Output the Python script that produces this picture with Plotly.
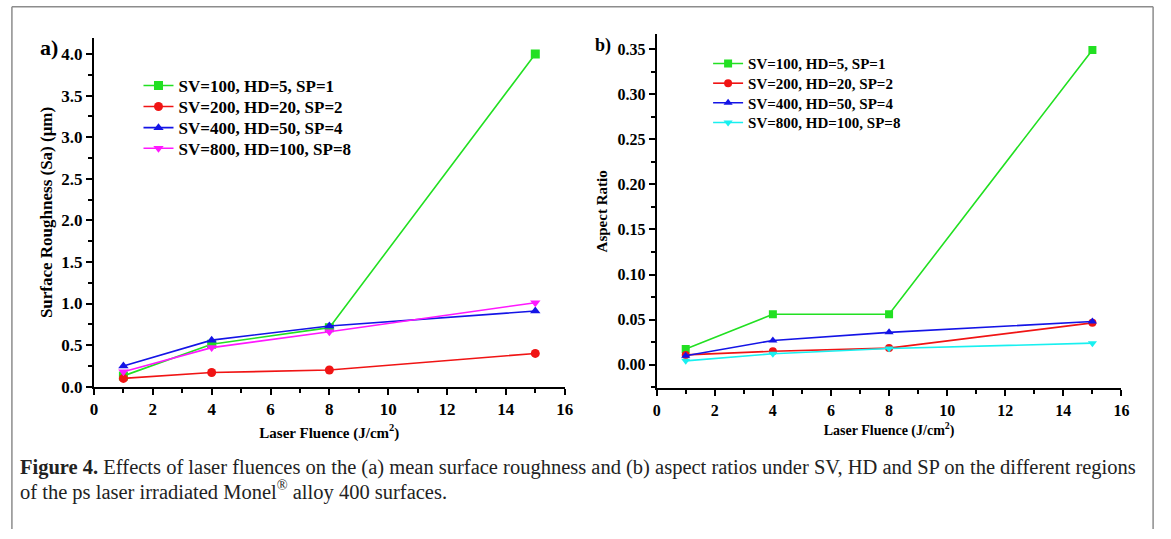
import plotly.graph_objects as go

# ---------------- data ----------------
fluence = [1, 4, 8, 15]
labels = ["SV=100, HD=5, SP=1", "SV=200, HD=20, SP=2",
          "SV=400, HD=50, SP=4", "SV=800, HD=100, SP=8"]

sa_100 = [0.13, 0.51, 0.71, 4.00]
sa_200 = [0.10, 0.17, 0.20, 0.40]
sa_400 = [0.25, 0.56, 0.73, 0.91]
sa_800 = [0.18, 0.47, 0.66, 1.01]

ar_100 = [0.0174, 0.056, 0.056, 0.349]
ar_200 = [0.011, 0.015, 0.0185, 0.0465]
ar_400 = [0.010, 0.027, 0.036, 0.048]
ar_800 = [0.0044, 0.0123, 0.018, 0.024]

caption_1 = ("<b>Figure 4.</b> Effects of laser fluences on the (a) mean surface roughness and "
             "(b) aspect ratios under SV, HD and SP on the different regions")
caption_2 = "of the ps laser irradiated Monel<sup>®</sup> alloy 400 surfaces."

# ---------------- styles ----------------
W, H = 1171, 539
FONT = "Liberation Serif"
green, red, blue, magenta, cyan = "#22e022", "#f01414", "#1414e6", "#ff18ff", "#18f0f0"

left_styles = [(green, "square"), (red, "circle"), (blue, "triangle-up"), (magenta, "triangle-down")]
right_styles = [(green, "square"), (red, "circle"), (blue, "triangle-up"), (cyan, "triangle-down")]


def px_x(p):
    return p / W


def px_y(p):
    return (H - p) / H


fig = go.Figure()

left_rows = [87.5, 109, 130.5, 151.5]
right_rows = [65, 85, 105, 125]
legend_layout = {}

for i, (name, ys, (c, sym)) in enumerate(zip(labels, [sa_100, sa_200, sa_400, sa_800], left_styles)):
    lg = "legend" if i == 0 else f"legend{i + 1}"
    fig.add_trace(go.Scatter(x=fluence, y=ys, name=name, mode="lines+markers",
                             line=dict(color=c, width=1.6),
                             marker=dict(color=c, symbol=sym, size=9),
                             xaxis="x", yaxis="y", legend=lg))
    legend_layout[lg] = dict(x=px_x(136), y=px_y(left_rows[i]), xanchor="left", yanchor="middle",
                             bgcolor="rgba(0,0,0,0)", borderwidth=0,
                             font=dict(size=17, family=FONT, weight="bold"), itemwidth=30)

for i, (name, ys, (c, sym)) in enumerate(zip(labels, [ar_100, ar_200, ar_400, ar_800], right_styles)):
    lg = f"legend{i + 5}"
    fig.add_trace(go.Scatter(x=fluence, y=ys, name=name, mode="lines+markers",
                             line=dict(color=c, width=1.6),
                             marker=dict(color=c, symbol=sym, size=8),
                             xaxis="x2", yaxis="y2", legend=lg))
    legend_layout[lg] = dict(x=px_x(712), y=px_y(right_rows[i]), xanchor="left", yanchor="middle",
                             bgcolor="rgba(0,0,0,0)", borderwidth=0,
                             font=dict(size=15, family=FONT, weight="bold"), itemwidth=30)

axis_common = dict(showline=True, linecolor="black", linewidth=2, ticks="outside",
                   tickcolor="black", tickwidth=1.5, showgrid=False, zeroline=False,
                   mirror=False)

fig.update_layout(
    width=W, height=H, margin=dict(l=0, r=0, t=0, b=0),
    paper_bgcolor="white", plot_bgcolor="white",
    font=dict(family=FONT, color="black"),
    xaxis=dict(domain=[px_x(91), px_x(567)], range=[0, 16], dtick=2, tick0=0,
               ticklen=6, anchor="y",
               tickfont=dict(size=17, family=FONT, weight="bold"),
               minor=dict(dtick=1, tick0=0, ticklen=4, ticks="outside", tickcolor="black", tickwidth=1.5),
               title=dict(text="<b>Laser Fluence (J/cm<sup>2</sup>)</b>", font=dict(size=15, family=FONT), standoff=9),
               **axis_common),
    yaxis=dict(domain=[px_y(394), px_y(39)], range=[0, 4.19], dtick=0.5, tick0=0,
               tickformat=".1f", ticklen=6, anchor="x",
               tickfont=dict(size=17, family=FONT, weight="bold"),
               minor=dict(dtick=0.25, tick0=0, ticklen=4, ticks="outside", tickcolor="black", tickwidth=1.5),
               title=dict(text="<b>Surface Roughness (Sa) (μm)</b>", font=dict(size=17, family=FONT), standoff=4),
               **axis_common),
    xaxis2=dict(domain=[px_x(660), px_x(1130)], range=[0, 16], dtick=2, tick0=0,
                ticklen=6, anchor="y2",
                tickfont=dict(size=16, family=FONT, weight="bold"),
                minor=dict(dtick=1, tick0=0, ticklen=4, ticks="outside", tickcolor="black", tickwidth=1.5),
                title=dict(text="<b>Laser Fluence (J/cm<sup>2</sup>)</b>", font=dict(size=14, family=FONT), standoff=8),
                **axis_common),
    yaxis2=dict(domain=[px_y(395.7), px_y(35)], range=[-0.0261, 0.3663], dtick=0.05, tick0=0,
                tickformat=".2f", ticklen=6, anchor="x2",
                tickfont=dict(size=16, family=FONT, weight="bold"),
                minor=dict(dtick=0.025, tick0=0, ticklen=4, ticks="outside", tickcolor="black", tickwidth=1.5),
                title=dict(text="<b>Aspect Ratio</b>", font=dict(size=15, family=FONT), standoff=6),
                **axis_common),
    showlegend=True,
    **legend_layout,
)

# panel labels
fig.add_annotation(x=px_x(46), y=px_y(48), xref="paper", yref="paper", text="<b>a)</b>",
                   showarrow=False, font=dict(size=22, family=FONT), xanchor="center", yanchor="middle")
fig.add_annotation(x=px_x(606), y=px_y(46), xref="paper", yref="paper", text="<b>b)</b>",
                   showarrow=False, font=dict(size=18, family=FONT), xanchor="center", yanchor="middle")

# caption (two lines, placed separately to keep the tight line spacing)
fig.add_annotation(x=px_x(14), y=px_y(476), xref="paper", yref="paper", text=caption_1,
                   showarrow=False, align="left", xanchor="left", yanchor="middle",
                   font=dict(size=20.5, family=FONT, color="#222"))
fig.add_annotation(x=px_x(14), y=px_y(500), xref="paper", yref="paper", text=caption_2,
                   showarrow=False, align="left", xanchor="left", yanchor="middle",
                   font=dict(size=20.5, family=FONT, color="#222"))

# outer frame (bottom edge is cut off in the reference)
fig.add_shape(type="line", xref="paper", yref="paper", x0=px_x(8), x1=px_x(1162), y0=px_y(7), y1=px_y(7),
              line=dict(color="#8c8c8c", width=1.5))
fig.add_shape(type="line", xref="paper", yref="paper", x0=px_x(8), x1=px_x(8), y0=px_y(7), y1=0,
              line=dict(color="#8c8c8c", width=1.5))
fig.add_shape(type="line", xref="paper", yref="paper", x0=px_x(1162), x1=px_x(1162), y0=px_y(7), y1=0,
              line=dict(color="#8c8c8c", width=1.5))

fig.write_html("out.html")
